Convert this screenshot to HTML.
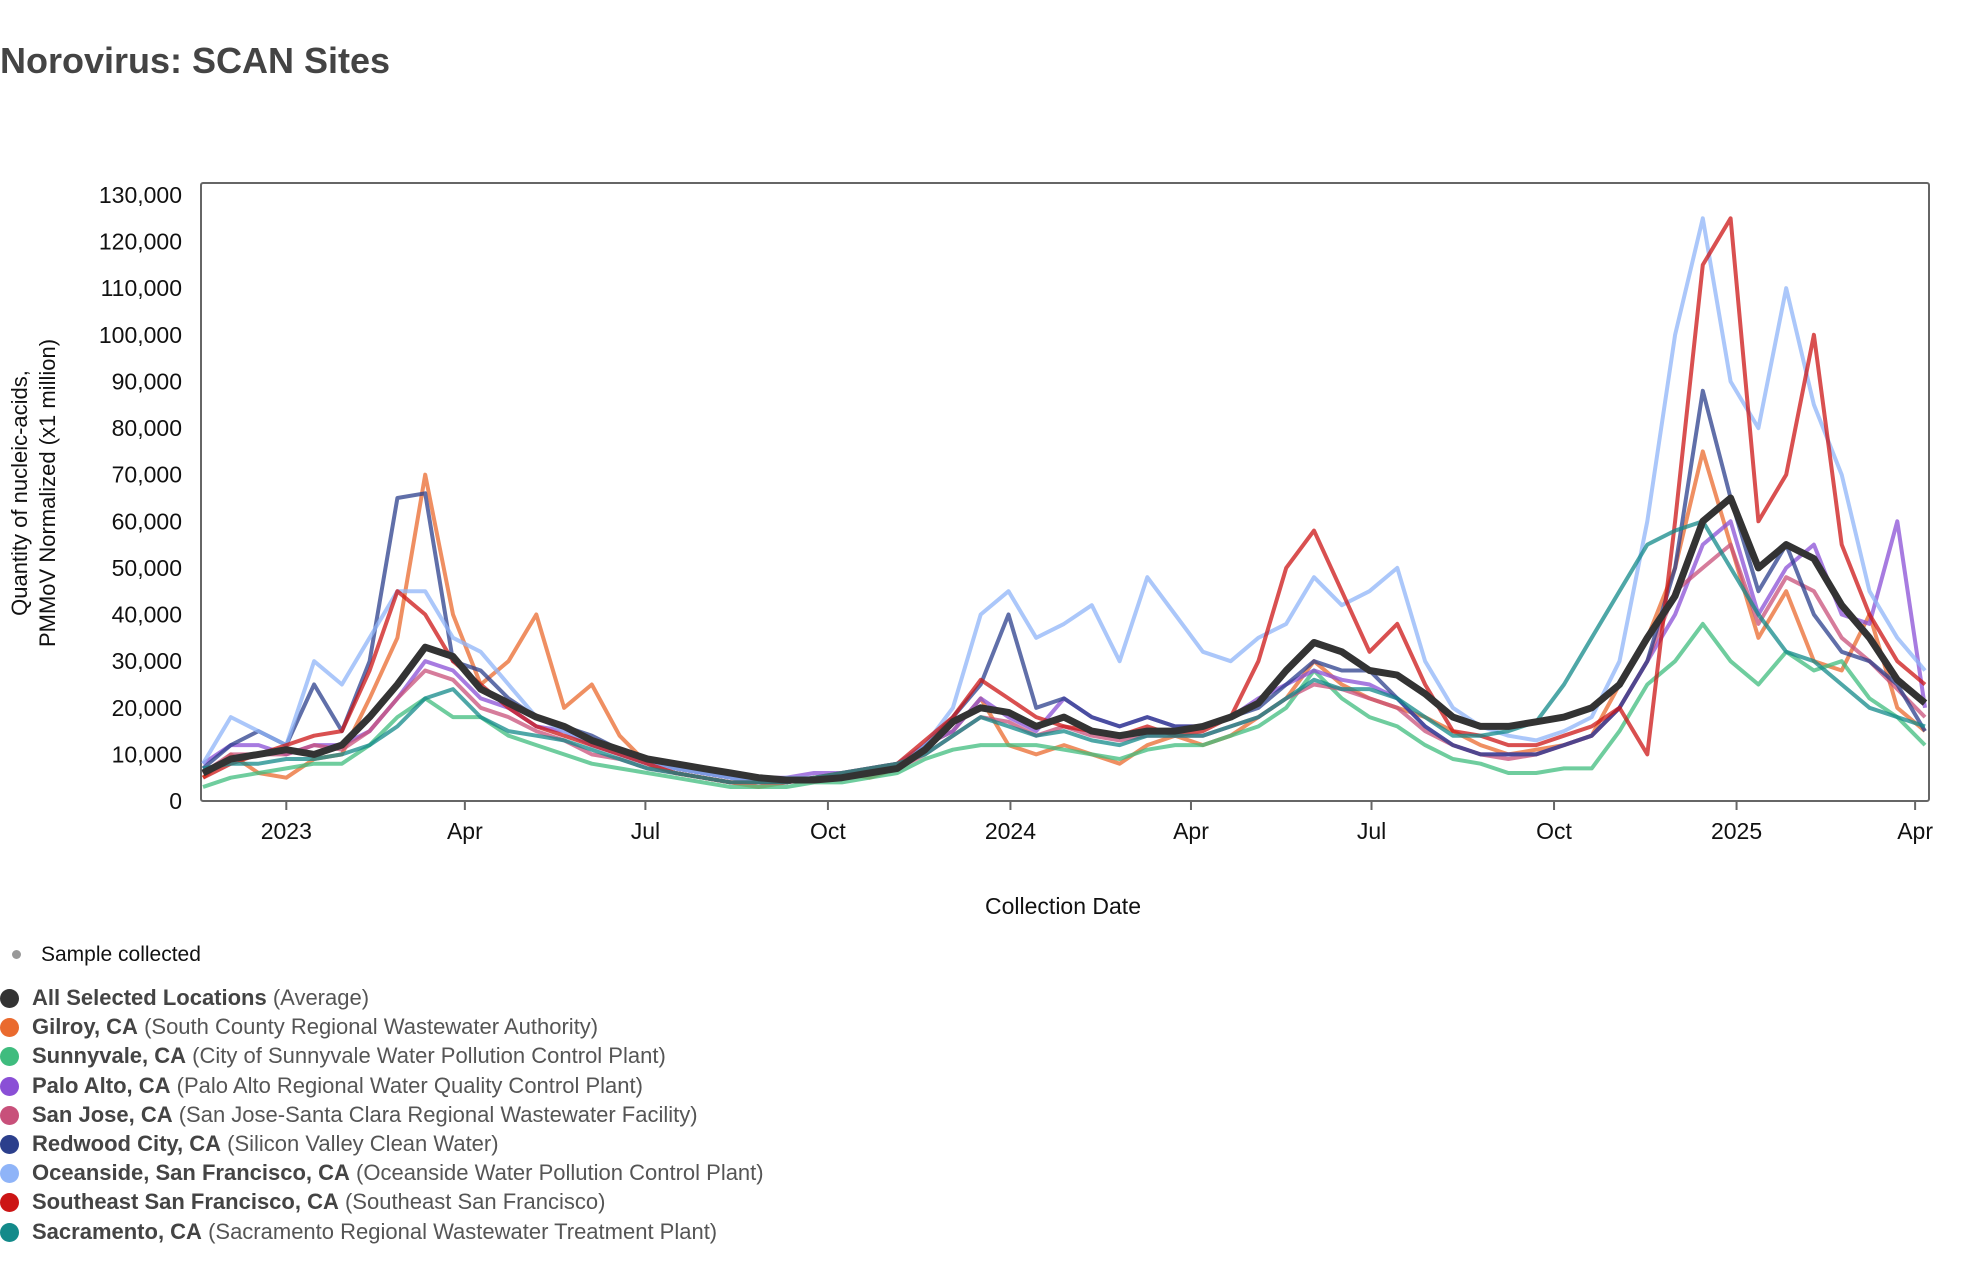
<!DOCTYPE html>
<html><head><meta charset="utf-8"><style>
html,body{margin:0;padding:0;background:#fff;}
body{width:1972px;height:1262px;overflow:hidden;position:relative;font-family:"Liberation Sans",sans-serif;}
#title{position:absolute;left:0;top:40px;font-size:36px;font-weight:bold;color:#444;}
.leg{position:absolute;left:0;font-size:22px;color:#555;white-space:nowrap;}
.leg b{color:#444;}
.dot{display:inline-block;width:19px;height:19px;border-radius:50%;vertical-align:-3px;margin-right:13px;}
</style></head><body>
<div id="title">Norovirus: SCAN Sites</div>
<svg id="chart" width="1972" height="930" style="position:absolute;left:0;top:0"></svg>
<div class="leg" style="top:943px;left:12px;color:#111;font-size:21px"><span style="display:inline-block;width:9px;height:9px;border-radius:50%;background:#999;margin-right:20px;vertical-align:2px"></span>Sample collected</div>
<div id="legend"></div>
<script>
const dates=["2022-11-20","2022-12-04","2022-12-18","2023-01-01","2023-01-15","2023-01-29","2023-02-12","2023-02-26","2023-03-12","2023-03-26","2023-04-09","2023-04-23","2023-05-07","2023-05-21","2023-06-04","2023-06-18","2023-07-02","2023-07-16","2023-07-30","2023-08-13","2023-08-27","2023-09-10","2023-09-24","2023-10-08","2023-10-22","2023-11-05","2023-11-19","2023-12-03","2023-12-17","2023-12-31","2024-01-14","2024-01-28","2024-02-11","2024-02-25","2024-03-10","2024-03-24","2024-04-07","2024-04-21","2024-05-05","2024-05-19","2024-06-02","2024-06-16","2024-06-30","2024-07-14","2024-07-28","2024-08-11","2024-08-25","2024-09-08","2024-09-22","2024-10-06","2024-10-20","2024-11-03","2024-11-17","2024-12-01","2024-12-15","2024-12-29","2025-01-12","2025-01-26","2025-02-09","2025-02-23","2025-03-09","2025-03-23","2025-04-06"];
const gilroy=[5,10,6,5,9,10,22,35,70,40,25,30,40,20,25,14,8,6,5,4,3,4,5,6,5,7,12,15,22,12,10,12,10,8,12,14,12,14,18,22,30,25,22,20,18,15,12,10,11,12,14,25,35,50,75,55,35,45,30,28,40,20,15];
const sunnyvale=[3,5,6,7,8,8,12,18,22,18,18,14,12,10,8,7,6,5,4,3,3,3,4,4,5,6,9,11,12,12,12,11,10,9,11,12,12,14,16,20,28,22,18,16,12,9,8,6,6,7,7,15,25,30,38,30,25,32,28,30,22,18,12];
const paloAlto=[8,12,12,10,12,12,15,22,30,28,22,20,16,15,12,10,8,7,6,5,5,5,6,6,7,8,12,15,22,18,15,22,18,16,18,16,16,18,22,25,28,26,25,22,16,12,10,10,10,12,14,20,30,40,55,60,40,50,55,40,38,60,20];
const sanJose=[6,10,10,10,12,11,15,22,28,26,20,18,15,13,10,9,7,6,5,4,4,4,5,5,6,7,10,14,18,17,14,16,14,13,14,14,14,16,18,22,25,24,22,20,15,12,10,9,10,12,14,20,30,45,50,55,38,48,45,35,30,24,18];
const redwood=[7,12,15,12,25,15,30,65,66,30,28,22,18,16,14,11,9,7,6,5,4,4,5,5,6,7,12,18,25,40,20,22,18,16,18,16,16,18,20,25,30,28,28,22,16,12,10,10,10,12,14,20,30,50,88,65,45,55,40,32,30,25,15];
const oceanside=[8,18,15,12,30,25,35,45,45,35,32,25,18,15,12,10,8,7,6,5,4,5,5,6,7,8,12,20,40,45,35,38,42,30,48,40,32,30,35,38,48,42,45,50,30,20,16,14,13,15,18,30,60,100,125,90,80,110,85,70,45,35,28];
const seSF=[5,8,10,12,14,15,28,45,40,30,25,20,16,14,12,10,8,6,5,4,4,4,5,6,7,8,13,18,26,22,18,16,15,14,16,14,15,18,30,50,58,45,32,38,25,15,14,12,12,14,16,20,10,60,115,125,60,70,100,55,40,30,25];
const sacramento=[7,8,8,9,9,10,12,16,22,24,18,15,14,13,11,9,7,6,5,4,4,4,5,6,7,8,10,14,18,16,14,15,13,12,14,14,14,16,18,22,26,24,24,22,18,14,14,15,17,25,35,45,55,58,60,50,40,32,30,25,20,18,16];
const average=[6,9,10,11,10,12,18,25,33,31,24,21,18,16,13,11,9,8,7,6,5,4.5,4.5,5,6,7,11,17,20,19,16,18,15,14,15,15,16,18,21,28,34,32,28,27,23,18,16,16,17,18,20,25,35,44,60,65,50,55,52,42,35,26,21];
const yTicks=[0,10000,20000,30000,40000,50000,60000,70000,80000,90000,100000,110000,120000,130000];
const xTickDates=["2023-01-01","2023-04-01","2023-07-01","2023-10-01","2024-01-01","2024-04-01","2024-07-01","2024-10-01","2025-01-01","2025-04-01"];
const xTickLabels=["2023","Apr","Jul","Oct","2024","Apr","Jul","Oct","2025","Apr"];
const seriesNames=["gilroy","sunnyvale","palo-alto","san-jose","redwood-city","oceanside","southeast-sf","sacramento"];
const seriesData=[gilroy,sunnyvale,paloAlto,sanJose,redwood,oceanside,seSF,sacramento];
const colors=["#ea6a2e","#3fbc7e","#8a4fd6","#c8507a","#2b3f8c","#8fb4f8","#cc1515","#138a8a"];

const L=201,R=1929,T=183,B=801;
const Y0=801,Y130=195;
const d0=Date.parse("2022-11-19"),d1=Date.parse("2025-04-08");
const xs=d=>L+(Date.parse(d)-d0)/(d1-d0)*(R-L);
const ys=v=>Y0-v/130000*(Y0-Y130);
const NS="http://www.w3.org/2000/svg";
const svg=document.getElementById('chart');
function mk(t,a){const e=document.createElementNS(NS,t);for(const k in a)e.setAttribute(k,a[k]);return e;}
let frame=mk('rect',{x:L,y:T,width:R-L,height:B-T,fill:'none',stroke:'#666','stroke-width':2,rx:2});


svg.appendChild(frame);
yTicks.forEach(v=>{
  const t=mk('text',{x:L-19,y:ys(v)+8,'text-anchor':'end','font-size':23,fill:'#111','font-family':'Liberation Sans, sans-serif'});
  t.textContent=v.toLocaleString('en-US');
  
  
  svg.appendChild(t);
});
xTickDates.forEach((d,i)=>{
  const x=xs(d);
  const l=mk('line',{x1:x,x2:x,y1:B,y2:B+9,stroke:'#666','stroke-width':2});
  
  
  svg.appendChild(l);
  const t=mk('text',{x:x,y:B+38,'text-anchor':'middle','font-size':23,fill:'#111','font-family':'Liberation Sans, sans-serif'});
  t.textContent=xTickLabels[i];
  
  
  svg.appendChild(t);
});
const xt=mk('text',{x:1063,y:914,'text-anchor':'middle','font-size':23,fill:'#111','font-family':'Liberation Sans, sans-serif'});
xt.textContent='Collection Date';


svg.appendChild(xt);
const yt=mk('text',{transform:'translate(27,493) rotate(-90)','text-anchor':'middle','font-size':22,fill:'#111','font-family':'Liberation Sans, sans-serif'});


const ts1=mk('tspan',{x:0,dy:0});ts1.textContent='Quantity of nucleic-acids,';
const ts2=mk('tspan',{x:0,dy:28});ts2.textContent='PMMoV Normalized (x1 million)';
yt.appendChild(ts1);yt.appendChild(ts2);svg.appendChild(yt);
function pathFor(arr){return arr.map((v,i)=>(i?'L':'M')+xs(dates[i]).toFixed(1)+','+ys(v*1000).toFixed(1)).join('');}
seriesData.forEach((arr,i)=>{
  const p=mk('path',{d:pathFor(arr),fill:'none',stroke:colors[i],'stroke-width':4,'stroke-opacity':0.75,'stroke-linejoin':'round'});
  
  
  svg.appendChild(p);
});
const avg=mk('path',{d:pathFor(average),fill:'none',stroke:'#333','stroke-width':7,'stroke-linejoin':'round'});


svg.appendChild(avg);

const legNames=["All Selected Locations","Gilroy, CA","Sunnyvale, CA","Palo Alto, CA","San Jose, CA","Redwood City, CA","Oceanside, San Francisco, CA","Southeast San Francisco, CA","Sacramento, CA"];
const legSubs=["(Average)","(South County Regional Wastewater Authority)","(City of Sunnyvale Water Pollution Control Plant)","(Palo Alto Regional Water Quality Control Plant)","(San Jose-Santa Clara Regional Wastewater Facility)","(Silicon Valley Clean Water)","(Oceanside Water Pollution Control Plant)","(Southeast San Francisco)","(Sacramento Regional Wastewater Treatment Plant)"];
const legColors=["#333","#ea6a2e","#3fbc7e","#8a4fd6","#c8507a","#2b3f8c","#8fb4f8","#cc1515","#138a8a"];
const leg=document.getElementById('legend');
legNames.forEach((n,i)=>{
  const d=document.createElement('div');
  d.className='leg';
  d.style.top=(985+i*29.2)+'px';
  d.innerHTML='<span class="dot" style="background:'+legColors[i]+'"></span><b>'+n+'</b> '+legSubs[i];
  
  
  leg.appendChild(d);
});
</script>
</body></html>
